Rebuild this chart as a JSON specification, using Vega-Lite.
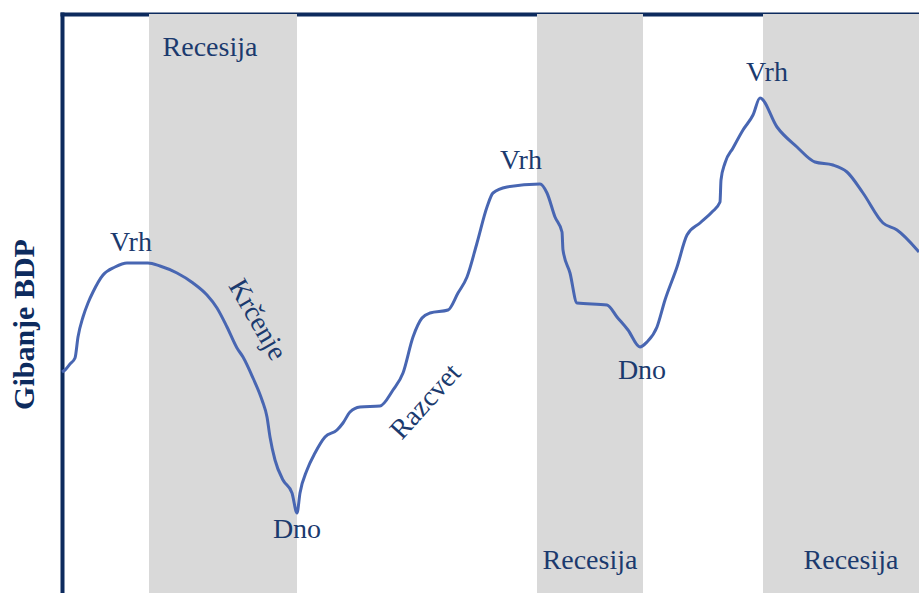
{
  "$schema": "https://vega.github.io/schema/vega-lite/v6.json",
  "width": 857,
  "height": 579,
  "autosize": {"type": "none"},
  "padding": {"left": 62, "top": 14, "right": 0, "bottom": 0},
  "background": "white",
  "config": {"view": {"stroke": null}, "font": "Liberation Serif"},
  "datasets": {
    "bands": [
      {"start": 87, "end": 235},
      {"start": 475, "end": 581},
      {"start": 701, "end": 857}
    ],
    "gdp": [
      {"t": 0, "v": 221}, {"t": 3, "v": 223}, {"t": 8, "v": 229}, {"t": 13, "v": 235},
      {"t": 16, "v": 256}, {"t": 21, "v": 276}, {"t": 26, "v": 290}, {"t": 31, "v": 301},
      {"t": 41, "v": 318}, {"t": 53, "v": 326}, {"t": 65, "v": 330}, {"t": 86, "v": 330},
      {"t": 98, "v": 327}, {"t": 115, "v": 320}, {"t": 131, "v": 310}, {"t": 145, "v": 298},
      {"t": 155, "v": 285}, {"t": 165, "v": 266}, {"t": 175, "v": 245}, {"t": 181, "v": 236},
      {"t": 191, "v": 215}, {"t": 200, "v": 193}, {"t": 205, "v": 176}, {"t": 208, "v": 156},
      {"t": 213, "v": 133}, {"t": 221, "v": 113}, {"t": 230, "v": 100}, {"t": 235, "v": 80},
      {"t": 238, "v": 100}, {"t": 245, "v": 123}, {"t": 253, "v": 140}, {"t": 263, "v": 156},
      {"t": 275, "v": 163}, {"t": 281, "v": 170}, {"t": 288, "v": 181}, {"t": 298, "v": 186},
      {"t": 318, "v": 187}, {"t": 331, "v": 203}, {"t": 341, "v": 220}, {"t": 351, "v": 256},
      {"t": 360, "v": 275}, {"t": 368, "v": 280}, {"t": 386, "v": 283}, {"t": 396, "v": 300},
      {"t": 405, "v": 316}, {"t": 415, "v": 350}, {"t": 425, "v": 386}, {"t": 431, "v": 400},
      {"t": 445, "v": 406}, {"t": 478, "v": 409}, {"t": 485, "v": 400}, {"t": 493, "v": 376},
      {"t": 500, "v": 361}, {"t": 501, "v": 343}, {"t": 508, "v": 320}, {"t": 515, "v": 290},
      {"t": 545, "v": 288}, {"t": 555, "v": 276}, {"t": 566, "v": 263}, {"t": 578, "v": 246},
      {"t": 585, "v": 251}, {"t": 595, "v": 266}, {"t": 603, "v": 293}, {"t": 615, "v": 326},
      {"t": 625, "v": 358}, {"t": 638, "v": 370}, {"t": 650, "v": 381}, {"t": 658, "v": 391},
      {"t": 659, "v": 413}, {"t": 663, "v": 430}, {"t": 671, "v": 445}, {"t": 681, "v": 463},
      {"t": 691, "v": 478}, {"t": 698, "v": 495}, {"t": 715, "v": 466}, {"t": 735, "v": 446},
      {"t": 753, "v": 431}, {"t": 771, "v": 428}, {"t": 785, "v": 421}, {"t": 801, "v": 400},
      {"t": 821, "v": 370}, {"t": 835, "v": 363}, {"t": 857, "v": 341}
    ],
    "labels": [
      {"t": 148, "v": 545, "label": "Recesija"},
      {"t": 69, "v": 350, "label": "Vrh"},
      {"t": 235, "v": 63, "label": "Dno"},
      {"t": 459, "v": 432, "label": "Vrh"},
      {"t": 580, "v": 222, "label": "Dno"},
      {"t": 705, "v": 520, "label": "Vrh"},
      {"t": 528, "v": 32, "label": "Recesija"},
      {"t": 789, "v": 32, "label": "Recesija"}
    ],
    "down": [{"t": 195, "v": 273, "label": "Krčenje"}],
    "up": [{"t": 364, "v": 191, "label": "Razcvet"}]
  },
  "layer": [
    {
      "data": {"name": "bands"},
      "mark": {"type": "rect", "color": "#d9d9d9"},
      "encoding": {
        "x": {"field": "start", "type": "quantitative", "scale": {"domain": [0, 857], "nice": false, "zero": false},
          "axis": {"orient": "top", "title": null, "labels": false, "ticks": false, "grid": false, "domain": true, "domainColor": "#0d2b5e", "domainWidth": 4, "domainCap": "square"}},
        "x2": {"field": "end"}
      }
    },
    {
      "data": {"name": "gdp"},
      "mark": {"type": "line", "color": "#4866b2", "strokeWidth": 3, "strokeJoin": "round", "interpolate": "monotone"},
      "encoding": {
        "x": {"field": "t", "type": "quantitative"},
        "y": {"field": "v", "type": "quantitative", "scale": {"domain": [0, 579], "nice": false, "zero": false},
          "axis": {"orient": "left", "title": "Gibanje BDP", "labels": false, "ticks": false, "grid": false,
            "domain": true, "domainColor": "#0d2b5e", "domainWidth": 4, "domainCap": "square",
            "titleFont": "Liberation Serif", "titleFontSize": 30, "titleFontWeight": "bold", "titleColor": "#0d2b5e",
            "titleAngle": -90, "titleX": -29, "titleY": 310, "titleAlign": "center", "titleBaseline": "alphabetic"}}
      }
    },
    {
      "data": {"name": "labels"},
      "mark": {"type": "text", "font": "Liberation Serif, Times New Roman, serif", "fontSize": 28, "color": "#1b3a6e", "baseline": "middle", "align": "center"},
      "encoding": {
        "x": {"field": "t", "type": "quantitative"},
        "y": {"field": "v", "type": "quantitative"},
        "text": {"field": "label"}
      }
    },
    {
      "data": {"name": "down"},
      "mark": {"type": "text", "font": "Liberation Serif, Times New Roman, serif", "fontSize": 28, "color": "#1b3a6e", "baseline": "middle", "align": "center", "angle": 60},
      "encoding": {
        "x": {"field": "t", "type": "quantitative"},
        "y": {"field": "v", "type": "quantitative"},
        "text": {"field": "label"}
      }
    },
    {
      "data": {"name": "up"},
      "mark": {"type": "text", "font": "Liberation Serif, Times New Roman, serif", "fontSize": 28, "color": "#1b3a6e", "baseline": "middle", "align": "center", "angle": -48},
      "encoding": {
        "x": {"field": "t", "type": "quantitative"},
        "y": {"field": "v", "type": "quantitative"},
        "text": {"field": "label"}
      }
    }
  ]
}
